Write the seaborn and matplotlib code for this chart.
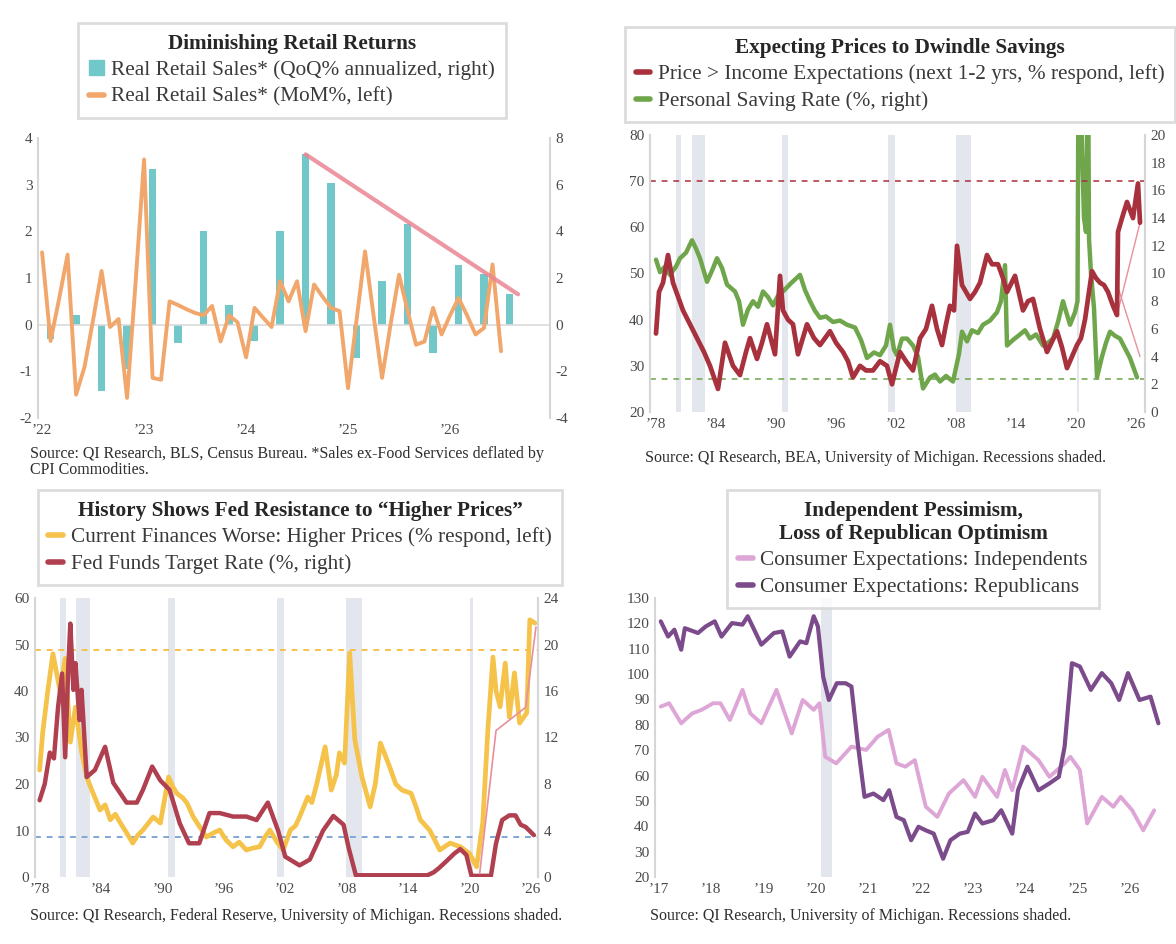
import numpy as np
import pandas as pd
import matplotlib
matplotlib.use("Agg")
import matplotlib.pyplot as plt
import seaborn as sns
from matplotlib.patches import Patch
from matplotlib.lines import Line2D

sns.set_theme(style="white")
plt.rcParams['font.family'] = ['Liberation Serif', 'DejaVu Serif']
plt.rcParams['axes.unicode_minus'] = False

# ---------------- DATA ----------------
# Panel 1: Diminishing Retail Returns (monthly from Jan 2022)
retail_mom = [1.55, -0.35, 0.55, 1.5, -1.5, -0.9, 0.1, 1.15, -0.05, 0.12, -1.57, 0.9,
              3.54, -1.14, -1.18, 0.5, 0.42, 0.33, 0.25, 0.2, 0.4, -0.36, 0.2, 0.05,
              -0.7, 0.36, 0.15, -0.05, 0.93, 0.5, 0.93, -0.14, 0.86, 0.6, 0.36, 0.29,
              -1.36, 0.1, 1.57, 0.2, -1.14, 0.0, 1.07, 0.3, -0.43, -0.36, 0.36, -0.21,
              0.2, 0.57, 0.2, -0.21, -0.07, 1.29, -0.57]
# quarterly, plotted at mid-quarter months (Feb 2022 ... Aug 2026)
retail_qoq = [-0.6, 0.4, -2.85, -1.9, 6.65, -0.8, 4.0, 0.85, -0.7, 4.0,
              7.3, 6.05, -1.45, 1.85, 4.3, -1.2, 2.55, 2.15, 1.3]
trend_x = [2022 + 31 / 12, 2022 + 56 / 12]
trend_y_left = [3.65, 0.65]
p1_xticks = [2022, 2023, 2024, 2025, 2026]
p1_xlabels = ["\u201922", "\u201923", "\u201924", "\u201925", "\u201926"]

# Panel 2: Expecting Prices to Dwindle Savings
pi_x = [1978.0, 1978.3, 1978.7, 1979.2, 1979.7, 1980.2, 1980.7, 1981.4, 1982.1, 1982.8,
        1983.4, 1984.2, 1984.9, 1985.7, 1986.4, 1987.0, 1987.4, 1988.1, 1988.6, 1989.1,
        1989.9, 1990.4, 1990.7, 1991.2, 1991.7, 1992.2, 1993.1, 1993.8, 1994.4, 1995.4,
        1996.0, 1996.7, 1997.2, 1997.7, 1998.4, 1999.0, 1999.7, 2000.4, 2001.1, 2001.6,
        2002.4, 2003.0, 2003.7, 2004.4, 2005.0, 2005.6, 2006.1, 2006.6, 2007.0, 2007.4,
        2007.8, 2008.1, 2008.6, 2009.0, 2009.4, 2009.9, 2010.4, 2011.1, 2011.6, 2012.2,
        2012.7, 2013.1, 2013.9, 2014.7, 2015.2, 2015.7, 2016.4, 2017.1, 2018.1, 2018.6,
        2019.1, 2019.6, 2020.1, 2020.5, 2020.9, 2021.6, 2022.0, 2022.4, 2022.8, 2023.2,
        2023.7, 2024.1, 2024.2, 2024.6, 2025.1, 2025.7, 2026.2, 2026.4]
pi_y = [37, 46, 48, 54, 48, 45, 42, 39, 36, 33,
        30, 25, 35, 30, 28, 33, 36, 31.5, 35, 39,
        32.5, 49.5, 42, 40, 39, 32.5, 39, 36, 34.5, 37.5,
        35, 33, 31, 27.5, 30, 29, 29, 31, 30, 26,
        33, 31, 29, 36, 38, 43, 38, 34.5, 39, 43,
        42, 56, 47.5, 46, 44.5, 46, 48, 54, 52, 52,
        49, 46, 49.5, 42, 44, 44.5, 38, 33, 37.5, 34,
        29.5, 32, 34.5, 36, 40, 50.5, 49, 48, 47.5, 46,
        43, 41, 59, 62, 65.5, 62, 69.5, 61]
pi_thin_a_x = [2024.1, 2026.4]
pi_thin_a_y = [41, 61]
pi_thin_b_x = [2024.2, 2026.4]
pi_thin_b_y = [47, 32]
sav_x = [1978.0, 1978.4, 1978.9, 1979.4, 1980.0, 1980.4, 1981.0, 1981.6, 1982.0, 1982.4,
         1983.1, 1983.6, 1984.1, 1984.6, 1985.1, 1985.9, 1986.3, 1986.7, 1987.2, 1987.7,
         1988.2, 1988.7, 1989.2, 1989.7, 1990.2, 1990.7, 1991.5, 1992.4, 1992.9, 1993.4,
         1993.9, 1994.4, 1995.0, 1995.7, 1996.4, 1997.1, 1997.9, 1998.5, 1999.1, 1999.8,
         2000.4, 2001.0, 2001.4, 2001.8, 2002.1, 2002.6, 2003.1, 2003.7, 2004.2, 2004.7,
         2005.4, 2005.9, 2006.4, 2007.0, 2007.7, 2008.3, 2008.6, 2009.1, 2009.6, 2010.2,
         2010.7, 2011.4, 2012.1, 2012.5, 2012.9, 2013.1, 2013.7, 2014.4, 2014.9, 2015.4,
         2016.0, 2016.7, 2017.2, 2017.7, 2018.2, 2018.7, 2019.4, 2019.9, 2020.15, 2020.3,
         2020.45, 2020.6, 2020.8, 2021.0, 2021.2, 2021.3, 2021.5, 2021.8, 2022.1, 2022.6,
         2023.0, 2023.4, 2023.9, 2024.4, 2024.9, 2025.4, 2026.1]
sav_y = [11.0, 10.1, 10.5, 9.9, 10.5, 11.1, 11.5, 12.4, 11.8, 11.1,
         9.4, 10.2, 11.1, 10.4, 9.2, 8.7, 8.0, 6.3, 7.4, 8.0,
         7.6, 8.7, 8.3, 7.7, 8.4, 8.7, 9.3, 9.9, 8.8, 8.0,
         7.3, 6.8, 6.9, 6.5, 6.6, 6.3, 6.1, 5.2, 3.9, 4.3,
         4.1, 4.8, 6.3, 4.5, 4.1, 5.3, 5.3, 4.8, 4.0, 1.7,
         2.5, 2.7, 2.2, 2.6, 2.2, 4.2, 5.8, 5.1, 5.9, 5.7,
         6.3, 6.6, 7.2, 8.0, 10.6, 4.8, 5.2, 5.6, 5.9, 5.3,
         5.6, 4.8, 5.0, 5.3, 6.5, 8.0, 6.3, 7.2, 8.0, 33.0,
         24.0, 19.0, 14.0, 13.0, 27.0, 12.5, 10.0, 7.5, 2.5, 4.0,
         5.0, 5.8, 5.5, 5.3, 4.6, 3.9, 2.5]
pi_ref_level = 70
sav_ref_level = 2.4

# Panel 3: History Shows Fed Resistance to "Higher Prices"
cf_x = [1978.0, 1978.3, 1978.8, 1979.3, 1980.0, 1980.5, 1981.0, 1981.5, 1982.1, 1982.6,
        1983.1, 1983.9, 1984.4, 1984.9, 1985.4, 1985.9, 1986.5, 1987.1, 1987.6, 1988.1,
        1988.6, 1989.1, 1989.8, 1990.6, 1991.0, 1991.4, 1992.0, 1992.4, 1993.0, 1993.4,
        1994.3, 1995.0, 1995.6, 1996.2, 1996.9, 1997.5, 1998.2, 1998.8, 1999.5, 2000.0,
        2000.5, 2001.2, 2001.8, 2002.5, 2003.0, 2003.4, 2004.2, 2004.6, 2005.1, 2005.9,
        2006.5, 2007.0, 2007.3, 2007.8, 2008.3, 2008.8, 2009.5, 2010.3, 2010.8, 2011.3,
        2011.8, 2012.2, 2012.8, 2013.4, 2014.3, 2014.8, 2015.2, 2016.1, 2016.6, 2017.1,
        2018.1, 2019.1, 2020.0, 2020.7, 2021.3, 2021.8, 2022.3, 2022.6, 2023.0, 2023.5,
        2023.9, 2024.4, 2024.9, 2025.6, 2025.9, 2026.4]
cf_y = [23, 31, 40, 48, 40, 47, 29, 36.5, 27, 21.5,
        18.7, 14.4, 15.5, 12.3, 13.5, 11.6, 9.5, 7.3, 9.0, 10.1,
        11.5, 12.9, 11.6, 21.5, 19.5, 18.0, 17.0, 15.9, 13.0, 11.6,
        8.6, 9.5, 10.1, 8.0, 6.5, 7.5, 5.8, 6.2, 6.5, 8.5,
        10.1, 7.5, 5.8, 10.1, 11.0, 12.9, 17.2, 16.0, 20.2, 28.0,
        18.7, 22.0, 26.7, 24.5, 48.2, 29.5, 21.5, 15.1, 20.0, 28.8,
        26.0, 23.7, 20.0, 18.7, 18.0, 15.0, 12.3, 10.1, 8.0, 5.8,
        7.3, 6.5, 5.1, 2.2, 11.6, 31.6, 47.3, 40.0, 36.6, 46.0,
        34.4, 43.9, 33.1, 35.3, 55.3, 54.6]
ff_x = [1978.0, 1978.5, 1979.0, 1979.4, 1979.8, 1980.2, 1980.5, 1980.8, 1981.0, 1981.3,
        1981.5, 1981.9, 1982.1, 1982.6, 1983.4, 1984.4, 1985.2, 1986.5, 1987.5, 1988.1,
        1989.0, 1989.8, 1990.7, 1991.7, 1992.6, 1993.6, 1994.6, 1995.6, 1996.9, 1998.2,
        1999.2, 2000.3, 2001.3, 2002.0, 2003.4, 2004.4, 2005.7, 2006.7, 2007.7, 2008.2,
        2008.9, 2015.9, 2016.5, 2017.0, 2017.8, 2018.5, 2019.1, 2019.7, 2020.2, 2022.1,
        2022.6, 2023.2, 2023.9, 2024.5, 2025.0, 2025.5, 2026.3]
ff_y = [6.6, 8.0, 10.7, 10.2, 14.6, 17.5, 10.3, 18.0, 21.8, 16.1,
        18.4, 13.5, 16.1, 8.6, 9.2, 11.2, 8.1, 6.4, 6.4, 7.5,
        9.5, 8.3, 7.5, 4.6, 2.9, 2.9, 5.5, 5.5, 5.2, 5.2,
        4.9, 6.4, 4.0, 1.75, 1.0, 1.5, 4.0, 5.25, 4.5, 2.5,
        0.15, 0.15, 0.4, 0.75, 1.4, 2.0, 2.4, 1.9, 0.1, 0.1,
        2.9, 4.9, 5.3, 5.3, 4.5, 4.3, 3.6]
ff_thin_x = [2021.0, 2022.6, 2025.5, 2026.5]
ff_thin_y = [0.3, 12.6, 14.6, 21.5]
cf_ref_level = 48.8
cf_low_level = 8.5

# Panel 4: Independent Pessimism, Loss of Republican Optimism
rep_x = [2017.04, 2017.18, 2017.3, 2017.43, 2017.5, 2017.75, 2017.9, 2018.07, 2018.2, 2018.4,
         2018.6, 2018.7, 2018.96, 2019.2, 2019.36, 2019.5, 2019.7, 2019.82, 2019.96, 2020.04,
         2020.14, 2020.25, 2020.4, 2020.57, 2020.68, 2020.8, 2020.93, 2021.1, 2021.29, 2021.4,
         2021.54, 2021.68, 2021.82, 2021.96, 2022.1, 2022.25, 2022.43, 2022.57, 2022.75, 2022.9,
         2023.04, 2023.18, 2023.39, 2023.54, 2023.75, 2023.86, 2024.04, 2024.25, 2024.46, 2024.64,
         2024.75, 2024.89, 2025.04, 2025.25, 2025.46, 2025.64, 2025.79, 2025.96, 2026.18, 2026.39,
         2026.54]
rep_y = [120.8, 114.8, 117.5, 109.6, 118.1, 116.2, 118.8, 120.8, 114.8, 120.1,
         119.5, 122.8, 111.6, 116.2, 116.8, 106.9, 112.9, 112.2, 122.8, 118.8,
         99.0, 89.8, 96.4, 96.4, 95.1, 72.7, 51.6, 52.9, 50.3, 54.2,
         43.7, 42.4, 34.5, 39.8, 38.4, 37.1, 27.2, 34.5, 37.1, 37.8,
         45.0, 41.1, 42.4, 46.3, 37.1, 54.2, 63.5, 54.2, 56.9, 59.5,
         71.4, 104.3, 103.0, 93.8, 100.4, 96.4, 89.8, 100.4, 89.8, 91.1,
         80.6]
ind_x = [2017.04, 2017.2, 2017.43, 2017.64, 2017.82, 2018.04, 2018.18, 2018.36, 2018.6, 2018.75,
         2018.96, 2019.25, 2019.54, 2019.75, 2019.96, 2020.07, 2020.18, 2020.39, 2020.68, 2020.96,
         2021.18, 2021.39, 2021.54, 2021.71, 2021.89, 2022.1, 2022.32, 2022.54, 2022.82, 2023.04,
         2023.18, 2023.46, 2023.61, 2023.75, 2023.96, 2024.25, 2024.46, 2024.75, 2024.86, 2025.04,
         2025.18, 2025.46, 2025.68, 2025.82, 2026.04, 2026.25, 2026.46]
ind_y = [87.2, 88.5, 80.6, 84.5, 85.9, 88.5, 88.5, 81.9, 93.8, 84.5,
         80.6, 93.8, 76.6, 89.8, 85.9, 88.5, 67.4, 64.8, 71.4, 70.1,
         75.3, 78.0, 64.8, 63.5, 66.1, 47.7, 43.7, 52.9, 58.2, 51.6,
         59.5, 51.6, 62.2, 54.2, 71.4, 66.1, 59.5, 64.8, 67.4, 62.2,
         41.1, 51.6, 47.7, 51.6, 46.3, 38.4, 46.3]

recessions = [(1980.0, 1980.55), (1981.55, 1982.9), (1990.55, 1991.2), (2001.2, 2001.9),
              (2007.95, 2009.5), (2020.1, 2020.3)]
long_xticks = [1978, 1984, 1990, 1996, 2002, 2008, 2014, 2020, 2026]
long_xlabels = ["\u201978", "\u201984", "\u201990", "\u201996", "\u201902", "\u201908",
                "\u201914", "\u201920", "\u201926"]
p4_xticks = list(range(2017, 2027))
p4_xlabels = ["\u2019%02d" % (y % 100) for y in p4_xticks]

# ---------------- STYLE ----------------
TEAL = "#72C7C9"
ORANGE = "#F1A76C"
TREND = "#E98592"
DRED = "#A8313E"
GREEN = "#6FA64C"
YELLOW = "#F5C24A"
FFRED = "#B0404F"
PINK = "#E7909C"
IND = "#DDA6D6"
REP = "#7B4B8C"
SHADE = "#E3E6EC"
SPINE = "#D6D6D6"
TICK = "#4A4A4A"
W, H = 1176, 944
LEG_FS = 15.3
SRC_FS = 11.5

fig = plt.figure(figsize=(W / 100, H / 100), dpi=100)


def box(x0, y0, x1, y1):
    return [x0 / W, 1 - y1 / H, (x1 - x0) / W, (y1 - y0) / H]


def style(ax, right=True, left=True):
    for s in ["top", "bottom"]:
        ax.spines[s].set_visible(False)
    ax.spines["left"].set_visible(left)
    ax.spines["right"].set_visible(right)
    for s in ["left", "right"]:
        ax.spines[s].set_color(SPINE)
        ax.spines[s].set_linewidth(1.5)
    ax.tick_params(length=0, labelsize=11, colors=TICK, pad=4)
    ax.set_xlabel("")
    ax.set_ylabel("")
    ax.grid(False)


def legend(handles, labels, title, cx, top):
    lg = fig.legend(handles, labels, title=title, loc="upper center",
                    bbox_to_anchor=(cx / W, 1 - top / H), frameon=True, fancybox=False,
                    fontsize=LEG_FS, title_fontproperties={"weight": "bold", "size": LEG_FS},
                    handlelength=0.7, handleheight=0.7, handletextpad=0.35,
                    borderpad=0.5, labelspacing=0.32, borderaxespad=0)
    lg.get_frame().set_edgecolor("#D4D4D4")
    lg.get_frame().set_linewidth(2)
    lg.get_title().set_multialignment("center")
    for t in lg.get_texts():
        t.set_color("#3A3A3A")
    return lg


# ---------------- PANEL 1 ----------------
ax1 = fig.add_axes(box(38, 138, 550, 418))
ax1b = ax1.twinx()
mom_x = [2022 + i / 12 for i in range(len(retail_mom))]
qoq_x = [2022 + (1 + 3 * i) / 12 for i in range(len(retail_qoq))]
sns.barplot(x=qoq_x, y=retail_qoq, native_scale=True, ax=ax1b, color=TEAL,
            saturation=1, width=0.3, errorbar=None, linewidth=0)
ax1.axhline(0, color="#DADADA", lw=1.2, zorder=0)
sns.lineplot(x=mom_x, y=retail_mom, ax=ax1, color=ORANGE, linewidth=2.8)
sns.lineplot(x=trend_x, y=trend_y_left, ax=ax1, color=TREND, linewidth=3, alpha=0.85)
ax1.set_zorder(ax1b.get_zorder() + 1)
ax1.patch.set_visible(False)
ax1.set_ylim(-2, 4)
ax1b.set_ylim(-4, 8)
ax1.set_yticks(range(-2, 5))
ax1b.set_yticks(range(-4, 9, 2))
ax1.set_xlim(2021.96, 2026.98)
ax1.set_xticks(p1_xticks)
ax1.set_xticklabels(p1_xlabels)
style(ax1)
style(ax1b)
ax1b.spines["left"].set_visible(False)
ax1.spines["right"].set_visible(False)
legend([Patch(color=TEAL), Line2D([], [], color=ORANGE, lw=4)],
       ["Real Retail Sales* (QoQ% annualized, right)", "Real Retail Sales* (MoM%, left)"],
       "Diminishing Retail Returns", 292, 23)
fig.text(30 / W, 1 - 462 / H,
         "Source: QI Research, BLS, Census Bureau. *Sales ex-Food Services deflated by\nCPI Commodities.",
         fontsize=SRC_FS, color="#2E2E2E", va="center", linespacing=1.0)

# ---------------- PANEL 2 ----------------
ax2 = fig.add_axes(box(650, 135, 1145, 412))
ax2b = ax2.twinx()
for a, b in recessions:
    ax2b.axvspan(a, b, color=SHADE, lw=0, zorder=0)
ax2.axhline(pi_ref_level, color=DRED, ls=(0, (3, 3)), lw=1.4, alpha=0.8)
ax2b.axhline(sav_ref_level, color=GREEN, ls=(0, (3, 3)), lw=1.4, alpha=0.8)
sns.lineplot(x=sav_x, y=sav_y, ax=ax2b, color=GREEN, linewidth=3.2)
sns.lineplot(x=pi_thin_a_x, y=pi_thin_a_y, ax=ax2, color=PINK, linewidth=1)
sns.lineplot(x=pi_thin_b_x, y=pi_thin_b_y, ax=ax2, color=PINK, linewidth=1)
sns.lineplot(x=pi_x, y=pi_y, ax=ax2, color=DRED, linewidth=3.4)
ax2.set_zorder(ax2b.get_zorder() + 1)
ax2.patch.set_visible(False)
ax2.set_ylim(20, 80)
ax2b.set_ylim(0, 20)
ax2.set_yticks(range(20, 81, 10))
ax2b.set_yticks(range(0, 21, 2))
ax2.set_xlim(1977.4, 2026.9)
ax2.set_xticks(long_xticks)
ax2.set_xticklabels(long_xlabels)
style(ax2)
style(ax2b)
legend([Line2D([], [], color=DRED, lw=4), Line2D([], [], color=GREEN, lw=4)],
       ["Price > Income Expectations (next 1-2 yrs, % respond, left)",
        "Personal Saving Rate (%, right)"],
       "Expecting Prices to Dwindle Savings", 900, 27)
fig.text(645 / W, 1 - 458 / H,
         "Source: QI Research, BEA, University of Michigan. Recessions shaded.",
         fontsize=SRC_FS, color="#2E2E2E", va="center")

# ---------------- PANEL 3 ----------------
ax3 = fig.add_axes(box(35, 598, 538, 877))
ax3b = ax3.twinx()
for a, b in recessions:
    ax3.axvspan(a, b, color=SHADE, lw=0, zorder=0)
ax3.axhline(cf_ref_level, color=YELLOW, ls=(0, (3, 3)), lw=1.4)
ax3.axhline(cf_low_level, color="#7FA7D6", ls=(0, (3, 3)), lw=1.4)
sns.lineplot(x=cf_x, y=cf_y, ax=ax3, color=YELLOW, linewidth=3.4)
sns.lineplot(x=ff_x, y=ff_y, ax=ax3b, color=FFRED, linewidth=3.2)
sns.lineplot(x=ff_thin_x, y=ff_thin_y, ax=ax3b, color=PINK, linewidth=1.2)
ax3.set_ylim(0, 60)
ax3b.set_ylim(0, 24)
ax3.set_yticks(range(0, 61, 10))
ax3b.set_yticks(range(0, 25, 4))
ax3.set_xlim(1977.55, 2026.7)
ax3.set_xticks(long_xticks)
ax3.set_xticklabels(long_xlabels)
style(ax3)
style(ax3b)
legend([Line2D([], [], color=YELLOW, lw=4), Line2D([], [], color=FFRED, lw=4)],
       ["Current Finances Worse: Higher Prices (% respond, left)",
        "Fed Funds Target Rate (%, right)"],
       "History Shows Fed Resistance to \u201cHigher Prices\u201d", 300, 490)
fig.text(30 / W, 1 - 916 / H,
         "Source: QI Research, Federal Reserve, University of Michigan. Recessions shaded.",
         fontsize=SRC_FS, color="#2E2E2E", va="center")

# ---------------- PANEL 4 ----------------
ax4 = fig.add_axes(box(655, 598, 1172, 877))
ax4.axvspan(*recessions[-1], color=SHADE, lw=0, zorder=0)
sns.lineplot(x=ind_x, y=ind_y, ax=ax4, color=IND, linewidth=2.8)
sns.lineplot(x=rep_x, y=rep_y, ax=ax4, color=REP, linewidth=3.0)
ax4.set_ylim(20, 130)
ax4.set_yticks(range(20, 131, 10))
ax4.set_xlim(2016.93, 2026.8)
ax4.set_xticks(p4_xticks)
ax4.set_xticklabels(p4_xlabels)
style(ax4, right=False)
legend([Line2D([], [], color=IND, lw=4), Line2D([], [], color=REP, lw=4)],
       ["Consumer Expectations: Independents", "Consumer Expectations: Republicans"],
       "Independent Pessimism,\nLoss of Republican Optimism", 913, 490)
fig.text(650 / W, 1 - 916 / H,
         "Source: QI Research, University of Michigan. Recessions shaded.",
         fontsize=SRC_FS, color="#2E2E2E", va="center")

fig.savefig("out.png", dpi=100, facecolor="white")
